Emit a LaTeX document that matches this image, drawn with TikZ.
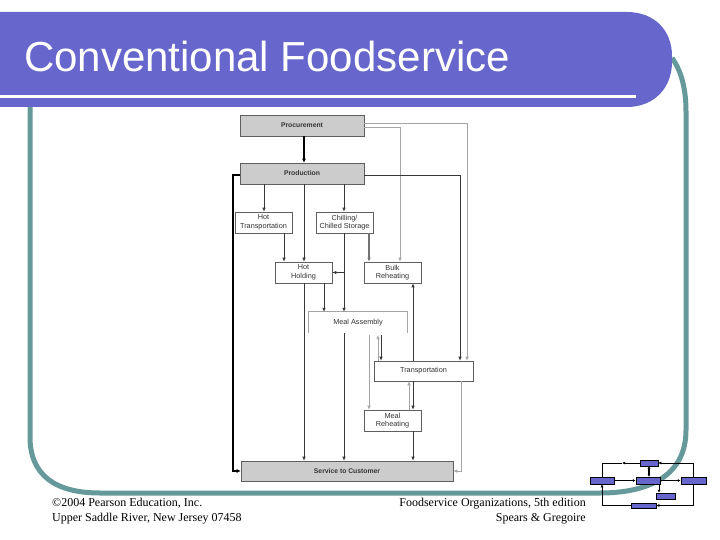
\documentclass[tikz,border=0pt]{standalone}
\usepackage{fontspec}
\setmainfont{Liberation Serif}
\newfontfamily\arialfont{Liberation Sans}
\usetikzlibrary{arrows.meta}
\definecolor{barpurple}{RGB}{102,102,204}
\definecolor{frameteal}{RGB}{102,153,153}
\definecolor{boxgray}{RGB}{204,204,204}
\definecolor{dline}{RGB}{55,55,55}
\definecolor{lline}{RGB}{165,165,165}
\definecolor{iconblue}{RGB}{102,102,204}
\tikzset{
  gbox/.style={draw=dline!80, fill=boxgray, line width=0.6pt, inner sep=0pt,
    font=\arialfont\bfseries\fontsize{6.8}{8}\selectfont, text=black!80},
  wbox/.style={draw=dline!80, fill=white, line width=0.6pt, inner sep=0pt, align=center,
    minimum width=57pt, minimum height=21pt,
    font=\arialfont\fontsize{7.3}{8.6}\selectfont, text=black!80},
  arr/.style={-{Latex[length=4pt,width=3.5pt]}},
  dl/.style={draw=dline, line width=0.7pt},
  ll/.style={draw=lline, line width=0.7pt},
  thickl/.style={draw=black, line width=1.8pt},
  frame/.style={draw=frameteal, line width=5pt},
  ibox/.style={draw=black, fill=iconblue, line width=0.5pt, inner sep=0pt},
  iarr/.style={draw=black, line width=1.1pt, -{Latex[length=3pt,width=3pt]}},
  iline/.style={draw=black, line width=0.6pt},
  ilarr/.style={draw=black, line width=0.6pt, -{Latex[length=3pt,width=3pt]}},
}
\begin{document}
\begin{tikzpicture}[x=1pt,y=-1pt]
\useasboundingbox (0,0) rectangle (720,540);
\fill[white] (0,0) rectangle (720,540);
% teal frame
\draw[frame] (672,58) .. controls (682,72) and (686,90) .. (686,112) -- (686,430)
  .. controls (686,475) and (650,493) .. (600,493) -- (100,493)
  .. controls (55,493) and (30,475) .. (30,437) -- (30,100);
% title bar
\fill[barpurple] (0,12) -- (627,12) .. controls (654,12) and (672,30) .. (672,56)
  -- (672,62) .. controls (672,88) and (654,107) .. (627,107) -- (0,107) -- cycle;
\fill[white] (0,95.5) rectangle (636,98.5);
\node[anchor=base west, text=white, inner sep=0pt,
  font=\arialfont\fontsize{42}{46}\selectfont] (title) at (24,72) {Conventional Foodservice};
% footer
\node[anchor=base west, inner sep=0pt, font=\fontsize{12}{14}\selectfont] (f1) at (52,506) {©2004 Pearson Education, Inc.};
\node[anchor=base west, inner sep=0pt, font=\fontsize{12}{14}\selectfont] (f2) at (52,521) {Upper Saddle River, New Jersey 07458};
\node[anchor=base east, inner sep=0pt, font=\fontsize{12}{14}\selectfont] (f3) at (586,506) {Foodservice Organizations, 5th edition};
\node[anchor=base east, inner sep=0pt, font=\fontsize{12}{14}\selectfont] (f4) at (586,521) {Spears \& Gregoire};
% column coordinates
\coordinate (cZ) at (233,0);
\coordinate (cA) at (264,0);
\coordinate (cB) at (284,0);
\coordinate (cC) at (304,0);
\coordinate (cD) at (324,0);
\coordinate (cE) at (344,0);
\coordinate (cF) at (369,0);
\coordinate (cG) at (378,0);
\coordinate (cH) at (381,0);
\coordinate (cI) at (400,0);
\coordinate (cJ) at (409,0);
\coordinate (cK) at (413,0);
\coordinate (cL) at (460,0);
\coordinate (cL2) at (461,0);
\coordinate (cM) at (467,0);
% nodes
\node[gbox, minimum width=124pt, minimum height=21pt] (proc) at (302,125.5) {Procurement};
\node[gbox, minimum width=124pt, minimum height=21pt] (prod) at (302,173.5) {Production};
\node[wbox] (hottr) at (263.5,222.5) {Hot\\Transportation};
\node[wbox] (chill) at (344.5,222.5) {Chilling/\\Chilled Storage};
\node[wbox] (hothold) at (303.5,272.5) {Hot\\Holding};
\node[wbox] (bulk) at (392.5,272.5) {Bulk\\Reheating};
\node[inner sep=0pt, minimum width=98pt, minimum height=21pt,
  font=\arialfont\fontsize{7.3}{8.6}\selectfont, text=black!80] (ma) at (358,322.5) {Meal Assembly};
\draw[draw=lline, line width=0.7pt] (ma.south west) -- (ma.north west) -- (ma.north east) -- (ma.south east);
\node[wbox, minimum width=99pt, minimum height=20pt] (trans) at (423.5,371) {Transportation};
\node[wbox] (mealreh) at (392.5,420.5) {Meal\\Reheating};
\node[gbox, minimum width=212pt, minimum height=20pt] (svc) at (347,471) {Service to Customer};
% connectors
\draw[thickl, -{Latex[length=4pt,width=4pt]}] (cC |- proc.south) -- (cC |- prod.north);
\draw[ll, arr] ([yshift=2.5pt]proc.east) -| (cM |- trans.north);
\draw[ll, arr] ([yshift=-1.5pt]proc.east) -| (cI |- bulk.north);
\draw[dl, arr] ([yshift=-1.5pt]prod.east) -| (cL |- trans.north);
\draw[dl, arr] (cA |- prod.south) -- (cA |- hottr.north);
\draw[dl, arr] (cC |- prod.south) -- (cC |- hothold.north);
\draw[dl, arr] (cE |- prod.south) -- (cE |- chill.north);
\draw[thickl, -{Latex[length=4pt,width=4pt]}] ([yshift=-1.5pt]prod.west) -| (cZ |- svc.west) -- (svc.west);
\draw[dl, arr] (cB |- hottr.south) -- (cB |- hothold.north);
\draw[draw=black!55, line width=1.1pt, arr] (cF |- chill.south) -- (cF |- bulk.north);
\draw[dl, arr] (cE |- chill.south) -- (cE |- ma.north);
\draw[dl, arr] (cE |- hothold.east) -- (hothold.east);
\draw[dl, arr] (cD |- hothold.south) -- (cD |- ma.north);
\draw[dl, arr] (cC |- hothold.south) -- (cC |- svc.north);
\draw[dl, arr] (cE |- ma.south) -- (cE |- svc.north);
\draw[ll, arr] (cG |- trans.north) -- ([yshift=-2pt]cG |- ma.south);
\draw[dl, arr] ([yshift=-2pt]cH |- ma.south) -- (cH |- trans.north);
\draw[dl, arr] (cK |- trans.north) -- (cK |- bulk.south);
\draw[ll, arr] ([yshift=-2pt]cF |- ma.south) -- (cF |- mealreh.north);
\draw[dl, arr] (cK |- trans.south) -- (cK |- mealreh.north);
\draw[ll, arr] (cJ |- mealreh.north) -- (cJ |- trans.south);
\draw[dl, arr] (cK |- mealreh.south) -- (cK |- svc.north);
\draw[ll, arr] (cL2 |- trans.south) |- (svc.east);
% icon
\node[ibox, minimum width=24pt, minimum height=7pt] (ileft) at (602,480.5) {};
\node[ibox, minimum width=18pt, minimum height=6pt] (itop) at (649,463) {};
\node[ibox, minimum width=24pt, minimum height=7pt] (icen) at (648,480.5) {};
\node[ibox, minimum width=25pt, minimum height=7pt] (iright) at (693.5,480.5) {};
\node[ibox, minimum width=19pt, minimum height=6pt] (ismall) at (665.5,496) {};
\node[ibox, minimum width=25pt, minimum height=5pt] (ibot) at (643.5,505.5) {};
\coordinate (ic1) at (622,463);
\coordinate (ic2) at (659,0);
\draw[iarr] (ileft.east) -- (icen.west);
\draw[iarr] (icen.east) -- (iright.west);
\draw[draw=black, line width=1.1pt, {Latex[length=2.5pt,width=3pt]}-{Latex[length=2.5pt,width=3pt]}] (itop.south) -- (icen.north -| itop.south);
\draw[ilarr] (iright.north) |- (itop.east);
\draw[ilarr] (itop.west) -- (ic1);
\draw[iline] (ic1) -| (ileft.north);
\draw[ilarr] (iright.south) |- (ibot.east);
\draw[ilarr] (ibot.west) -| (ileft.south);
\draw[ilarr] (ic2 |- icen.south) -- (ic2 |- ismall.north);
\end{tikzpicture}
\end{document}
